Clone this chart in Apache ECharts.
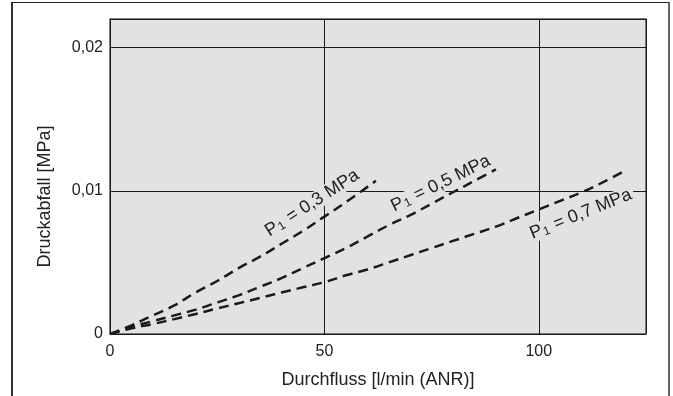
<!DOCTYPE html>
<html>
<head>
<meta charset="utf-8">
<script src="https://cdn.jsdelivr.net/npm/echarts@6/dist/echarts.min.js"></script>
<style>
html,body{margin:0;padding:0;background:#fff;}
#wrap{position:relative;width:673px;height:396px;}
#chart{position:absolute;left:0;top:0;width:673px;height:396px;}
#frame{position:absolute;left:11px;top:2px;width:655px;height:400px;border-left:2px solid #333;border-top:1px solid #222;border-right:2px solid #666;pointer-events:none;}
</style>
</head>
<body>
<div id="wrap"><div id="chart"></div><div id="frame"></div></div>
<script>
// Flow [l/min (ANR)] and pressure drop [MPa]
const flow03 = [0, 5, 10, 15, 20, 25, 30, 35, 40, 45, 50, 55, 62];
const drop03 = [0, 0.0006, 0.0013, 0.002, 0.0029, 0.0037, 0.0046, 0.0054, 0.0063, 0.0072, 0.0082, 0.0092, 0.0107];
const flow05 = [0, 5, 10, 15, 20, 25, 30, 35, 40, 45, 50, 55, 60, 65, 70, 75, 80, 85, 90];
const drop05 = [0, 0.0005, 0.0009, 0.0013, 0.0017, 0.0022, 0.0027, 0.0033, 0.0039, 0.0046, 0.0053, 0.006, 0.0068, 0.0076, 0.0083, 0.0091, 0.0099, 0.0107, 0.0115];
const flow07 = [0, 5, 10, 15, 20, 25, 30, 35, 40, 45, 50, 55, 60, 65, 70, 75, 80, 85, 90, 95, 100, 105, 110, 115, 120];
const drop07 = [0, 0.0004, 0.0007, 0.00104, 0.0014, 0.00178, 0.00215, 0.00252, 0.0029, 0.00326, 0.00362, 0.0041, 0.0045, 0.005, 0.0055, 0.006, 0.0065, 0.007, 0.0075, 0.0081, 0.0087, 0.0093, 0.0099, 0.0106, 0.0114];
const seriesNames = ['0,3', '0,5', '0,7'];
const xTicks = [0, 50, 100];
const xTickLabels = ['0', '50', '100'];
const yTicks = [0, 0.01, 0.02];
const yTickLabels = ['0', '0,01', '0,02'];
const xTitle = 'Durchfluss [l/min (ANR)]';
const yTitle = 'Druckabfall [MPa]';
// label anchor: index of the curve point the label is attached to
const labelAnchorIdx = [10, 15, 21];

const FONT = '"Liberation Sans", Arial, sans-serif';
const flows = [flow03, flow05, flow07];
const drops = [drop03, drop05, drop07];
const labelStyle = [
  {rotate: 33, offset: [-3, -18]},
  {rotate: 26, offset: [17, -14]},
  {rotate: 22, offset: [14, 20]}
];

function tickLabel(vals, labels) {
  return function (v) {
    for (let i = 0; i < vals.length; i++) if (Math.abs(v - vals[i]) < 1e-9) return labels[i];
    return '';
  };
}

const series = flows.map(function (fx, k) {
  const data = fx.map(function (x, i) { return [x, drops[k][i]]; });
  const a = labelAnchorIdx[k];
  return {
    type: 'line',
    name: seriesNames[k],
    data: data,
    symbol: 'none',
    smooth: 0.4,
    lineStyle: {color: '#1a1a1a', width: 2.5, type: [10, 6]},
    z: 3,
    markPoint: {
      symbol: 'circle',
      symbolSize: 0,
      silent: true,
      data: [{coord: data[a]}],
      label: {
        show: true,
        position: 'inside',
        rotate: labelStyle[k].rotate,
        offset: labelStyle[k].offset,
        backgroundColor: '#e1e2e4',
        padding: [0, 3, 0, 3],
        formatter: '{p|P}{s|1}{p| = ' + seriesNames[k] + ' MPa}',
        rich: {
          p: {fontFamily: FONT, fontSize: 18, color: '#222'},
          s: {fontFamily: FONT, fontSize: 12, color: '#222', verticalAlign: 'bottom', padding: [0, 1, 0, 1]}
        }
      }
    }
  };
});

const chart = echarts.init(document.getElementById('chart'));
chart.setOption({
  animation: false,
  backgroundColor: 'transparent',
  grid: {left: 110, top: 19, right: 27, bottom: 62, show: true, backgroundColor: '#e1e2e4', borderColor: '#555', borderWidth: 1.5},
  xAxis: {
    type: 'value', min: 0, max: 125, interval: 50,
    name: xTitle, nameLocation: 'middle', nameGap: 37,
    nameTextStyle: {fontFamily: FONT, fontSize: 18, color: '#222'},
    axisLine: {show: false}, axisTick: {show: false},
    axisLabel: {fontFamily: FONT, fontSize: 16, color: '#222', margin: 10, formatter: tickLabel(xTicks, xTickLabels)},
    splitLine: {show: true, lineStyle: {color: '#1a1a1a', width: 1}}
  },
  yAxis: {
    type: 'value', min: 0, max: 0.022, interval: 0.01,
    name: yTitle, nameLocation: 'middle', nameGap: 56,
    nameTextStyle: {fontFamily: FONT, fontSize: 18, color: '#222', padding: [0, 40, 0, 0]},
    axisLine: {show: false}, axisTick: {show: false},
    axisLabel: {fontFamily: FONT, fontSize: 16, color: '#222', margin: 7, formatter: tickLabel(yTicks, yTickLabels)},
    splitLine: {show: true, lineStyle: {color: '#1a1a1a', width: 1}}
  },
  series: series
});
</script>
</body>
</html>
